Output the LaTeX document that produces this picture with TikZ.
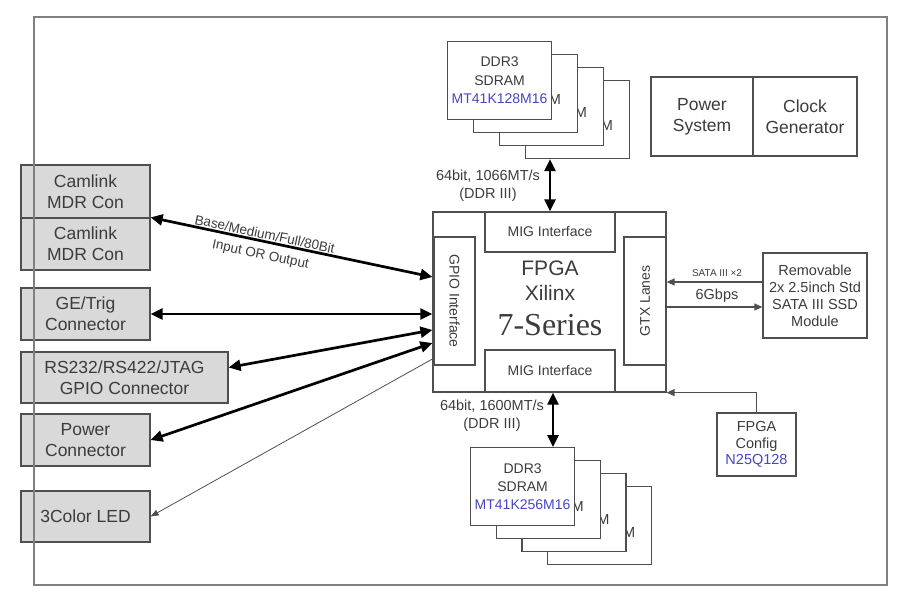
\documentclass[tikz,border=0pt]{standalone}
\usepackage{fontspec}
\setmainfont{Liberation Sans}
\newfontfamily\seriesfont{Liberation Serif}
\usetikzlibrary{arrows.meta,calc}

\definecolor{inkgray}{HTML}{3C3C3C}
\definecolor{edgegray}{HTML}{4F4F4F}
\definecolor{framegray}{HTML}{808080}
\definecolor{congray}{HTML}{D9D9D9}
\definecolor{partblue}{HTML}{4646C4}

\tikzset{
  blk/.style={draw=edgegray, line width=1.2pt, fill=white, text=inkgray, align=center, inner sep=0pt,
    font=\fontsize{14.5}{18}\selectfont},
  con/.style={blk, fill=congray, font=\fontsize{17.5}{21}\selectfont},
  ddr/.style={blk, anchor=north west, minimum width=104pt, minimum height=78pt},
  lbl/.style={text=inkgray, align=center, inner sep=0pt, font=\fontsize{14.5}{18}\selectfont},
  bus/.style={{Triangle[length=12pt,width=11pt]}-{Triangle[length=12pt,width=11pt]}, line width=2.7pt},
  lane/.style={-{Triangle[length=8pt,width=7pt]}, line width=1.3pt, draw=edgegray}
}

\begin{document}
\begin{tikzpicture}[x=1pt,y=-1pt]
\useasboundingbox (0,0) rectangle (900,602);

% connectors on the left
\node[con, minimum width=129pt, minimum height=53pt] (cam1) at (85.5,191.5) {Camlink\\MDR Con};
\node[con, minimum width=129pt, minimum height=52pt] (cam2) at (85.5,244) {Camlink\\MDR Con};
\node[con, minimum width=129pt, minimum height=52pt] (ge) at (85.5,314) {GE/Trig\\Connector};
\node[con, minimum width=207pt, minimum height=51pt] (rs) at (124.5,377.5) {RS232/RS422/JTAG\\GPIO Connector};
\node[con, minimum width=129pt, minimum height=52pt] (pwr) at (85.5,440) {Power\\Connector};
\node[con, minimum width=129pt, minimum height=51pt] (led) at (85.5,516.5) {3Color LED};

\draw[framegray, line width=2pt] (34,17) rectangle (887,585);

% memory stacks
\foreach \k in {3,2,1}{
  \node[ddr] (ddrT\k) at (447+26*\k,41+13*\k) {};
  \node[lbl, anchor=east] at ([xshift=-17pt,yshift=-46pt]ddrT\k.north east) {M};
}
\node[ddr, font=\fontsize{14}{18.5}\selectfont] (ddrT) at (447,41) {DDR3\\SDRAM\\{\color{partblue}MT41K128M16}};

\foreach \k in {3,2,1}{
  \node[ddr] (ddrB\k) at (470+25.7*\k,447+13*\k) {};
  \node[lbl, anchor=east] at ([xshift=-17pt,yshift=-47pt]ddrB\k.north east) {M};
}
\node[ddr, font=\fontsize{14}{18}\selectfont] (ddrB) at (470,447) {DDR3\\SDRAM\\{\color{partblue}MT41K256M16}};

% fpga
\node[blk, minimum width=233pt, minimum height=180pt] (fpga) at (549.5,302) {};
\node[blk, font=\fontsize{14}{16}\selectfont, minimum width=130pt, minimum height=40pt] (migT) at (550,232) {MIG Interface};
\node[blk, font=\fontsize{14}{16}\selectfont, minimum width=130pt, minimum height=42pt] (migB) at (550,371) {MIG Interface};
\node[blk, font=\fontsize{14}{16}\selectfont, minimum width=128pt, minimum height=41pt, rotate=-90] (gpio) at (454.5,301) {GPIO Interface};
\node[blk, font=\fontsize{14}{16}\selectfont, minimum width=128pt, minimum height=42pt, rotate=90] (gtx) at (645,301) {GTX Lanes};
\node[lbl, font=\fontsize{21}{23}\selectfont] (fname) at (550,268) {FPGA};
\node[lbl, font=\fontsize{21}{23}\selectfont] (fmaker) at (550,293) {Xilinx};
\node[lbl, font=\seriesfont\fontsize{32}{34}\selectfont] (fseries) at (550,325) {7-Series};

% right side
\node[con, fill=white, minimum width=102pt, minimum height=79pt] (psys) at (702,116.5) {Power\\System};
\node[con, fill=white, minimum width=104pt, minimum height=79pt] (clk) at (805,116.5) {Clock\\Generator};
\node[blk, font=\fontsize{14.5}{17}\selectfont, minimum width=104pt, minimum height=85pt] (ssd) at (815,295.5) {Removable\\2x 2.5inch Std\\SATA III SSD\\Module};
\node[blk, font=\fontsize{14.5}{16.5}\selectfont, minimum width=79pt, minimum height=63pt] (cfg) at (756.5,444.5) {FPGA\\Config\\{\color{partblue}N25Q128}};

\draw[lane] ([yshift=13.5pt]ssd.west) -- ([yshift=13.5pt]ssd.west -| fpga.east);
\draw[lane] ([yshift=-11.5pt]ssd.west -| fpga.east) -- ([yshift=-11.5pt]ssd.west);
\node[lbl, font=\fontsize{10}{12}\selectfont] (satax) at (717,273) {SATA III ×2};
\node[lbl] (rate) at (717,296) {6Gbps};
\draw[lane, line width=1pt] (cfg.north) |- (fpga.south east);

% memory buses
\draw[bus] (migT.north |- ddrT3.south) -- (migT.north);
\draw[bus] ([xshift=3pt]migB.south) -- ([xshift=3pt]migB.south |- ddrB.north);
\node[lbl] (busT) at (488,186) {64bit, 1066MT/s\\(DDR III)};
\node[lbl] (busB) at (492,416) {64bit, 1600MT/s\\(DDR III)};

% gpio side
\draw[bus] (cam2.north east) -- ([yshift=25pt]fpga.west)
  node[lbl, sloped, pos=0.4, yshift=-4pt, font=\fontsize{13.5}{20}\selectfont] (camtxt) {Base/Medium/Full/80Bit\\Input OR Output};
\draw[bus] (ge.east) -- (ge.east -| fpga.west);
\draw[bus] ([yshift=10pt]rs.east) -- ([yshift=-28pt]fpga.west);
\draw[bus] (pwr.east) -- ([yshift=-41pt]fpga.west);
\draw[{Triangle[length=8pt,width=6pt]}-, line width=0.8pt, draw=edgegray] (led.east) -- ([yshift=-57pt]fpga.west);
\end{tikzpicture}
\end{document}
